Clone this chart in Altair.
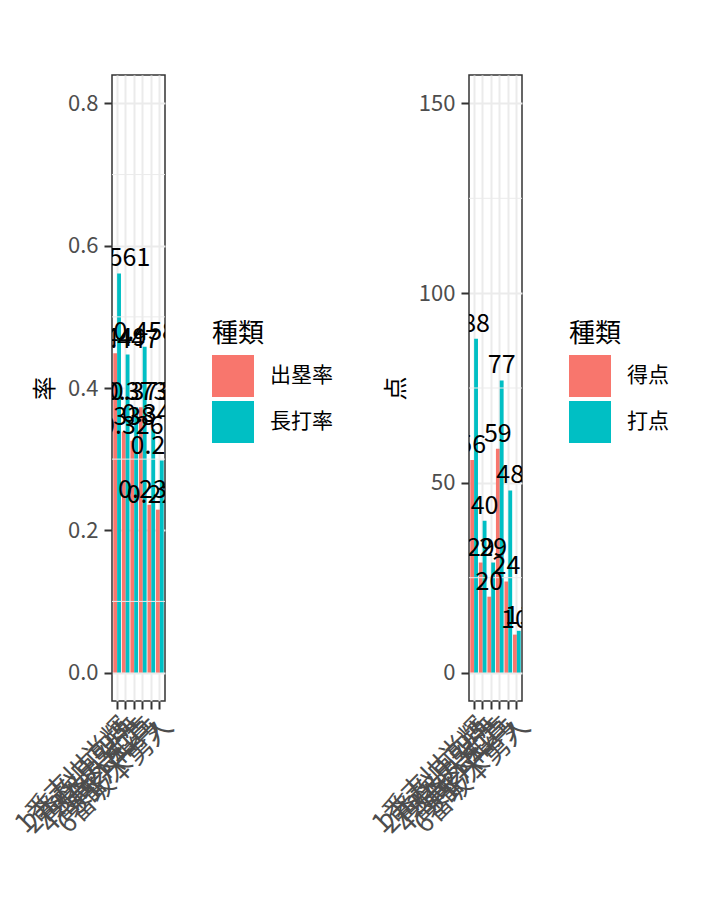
import altair as alt
import pandas as pd

players = ["1番吉川尚輝", "2番松原聖弥", "3番丸佳浩", "4番岡本和真", "5番パーラ", "6番坂本勇人"]
rate_types = ["出塁率", "長打率"]
obp = [0.449, 0.338, 0.326, 0.373, 0.236, 0.229]
slg = [0.561, 0.447, 0.373, 0.458, 0.342, 0.298]
pt_types = ["得点", "打点"]
runs = [56, 29, 20, 59, 24, 10]
rbi = [88, 40, 29, 77, 48, 11]

FONT = "Noto Sans CJK JP"
RED = "#F8766D"
TEAL = "#00BFC4"

rows = []
for i, p in enumerate(players):
    rows.append({"選手": p, "種類": rate_types[0], "値": obp[i], "ラベル": str(obp[i])})
    rows.append({"選手": p, "種類": rate_types[1], "値": slg[i], "ラベル": str(slg[i])})
df_rate = pd.DataFrame(rows)
rows = []
for i, p in enumerate(players):
    rows.append({"選手": p, "種類": pt_types[0], "値": runs[i], "ラベル": str(runs[i])})
    rows.append({"選手": p, "種類": pt_types[1], "値": rbi[i], "ラベル": str(rbi[i])})
df_pt = pd.DataFrame(rows)


def panel(df, types, ytitle, domain, major, minor, fmt):
    xenc = alt.X("選手:N", sort=players, title=None,
                 scale=alt.Scale(paddingInner=0.1, paddingOuter=0.15),
                 axis=alt.Axis(labelAngle=-45, labelAlign="right", labelBaseline="top",
                               labelFontSize=27, labelColor="#4D4D4D", labelFont=FONT,
                               tickColor="#333333", tickSize=8, tickWidth=2,
                               labelPadding=4, domain=False, grid=True,
                               gridColor="#EBEBEB", gridWidth=2, bandPosition=0.5,
                               labelOverlap=False, labelBound=False))
    yscale = alt.Scale(domain=domain, nice=False, zero=False)
    yaxis = alt.Axis(values=major, format=fmt, grid=True, gridColor="#EBEBEB", gridWidth=2,
                     labelFontSize=22, labelColor="#4D4D4D", labelFont=FONT,
                     tickColor="#333333", tickSize=8, tickWidth=2, labelPadding=6,
                     domain=False, titleFontSize=24, titleFont=FONT, titleColor="#000000",
                     titleFontWeight="normal", titlePadding=10)
    base = alt.Chart(df)
    minor_df = pd.DataFrame({"m": minor})
    bars = base.mark_bar().encode(
        x=xenc,
        xOffset=alt.XOffset("種類:N", sort=types, scale=alt.Scale(paddingInner=0, paddingOuter=0)),
        y=alt.Y("値:Q", scale=yscale, title=ytitle, axis=yaxis),
        y2=alt.datum(0),
        color=alt.Color("種類:N", sort=types,
                        scale=alt.Scale(domain=types, range=[RED, TEAL]),
                        legend=alt.Legend(orient="none", legendX=100, legendY=246,
                                          title="種類", titleFontSize=26, titleFont=FONT,
                                          titleFontWeight="normal", titleColor="#000000",
                                          titlePadding=8,
                                          labelFontSize=21, labelFont=FONT, labelColor="#000000",
                                          symbolType="square", symbolSize=1764,
                                          symbolStrokeWidth=0, symbolOpacity=1,
                                          rowPadding=4, labelOffset=16)),
    )
    minor_rules = alt.Chart(minor_df).mark_rule(color="#EBEBEB", strokeWidth=1).encode(
        y=alt.Y("m:Q", scale=yscale))
    texts = base.mark_text(baseline="bottom", dy=-2, fontSize=25, font=FONT,
                           color="#000000", clip=True).encode(
        x=alt.X("選手:N", sort=players),
        xOffset=alt.XOffset("種類:N", sort=types),
        y=alt.Y("値:Q", scale=yscale),
        text="ラベル:N",
    )
    return alt.layer(bars, minor_rules, texts).properties(width=53, height=626)


left = panel(df_rate, rate_types, "率", [-0.04, 0.84], [0, 0.2, 0.4, 0.6, 0.8],
             [0.1, 0.3, 0.5, 0.7], ".1f")
right = panel(df_pt, pt_types, "点", [-7.5, 157.5], [0, 50, 100, 150], [25, 75, 125], "d")

chart = alt.hconcat(left, right, spacing=32).resolve_scale(
    color="independent", y="independent", x="independent", xOffset="independent"
).properties(
    padding={"left": 9, "top": 74, "right": 0, "bottom": 0}, background="white"
).configure_view(stroke="#333333", strokeWidth=1.5)

chart.save("out.html", embed_options={"renderer": "svg", "actions": False})
